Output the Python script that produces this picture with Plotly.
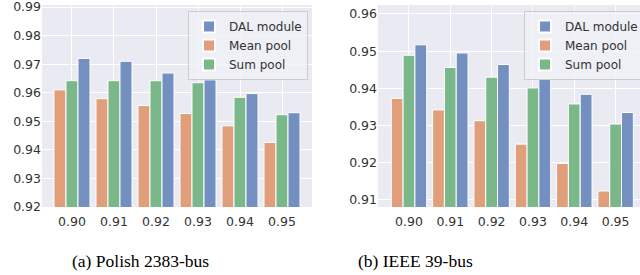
import plotly.graph_objects as go

categories = ["0.90", "0.91", "0.92", "0.93", "0.94", "0.95"]

# (a) Polish 2383-bus
polish_dal = [0.9720, 0.9710, 0.9669, 0.9645, 0.9597, 0.9530]
polish_mean = [0.9610, 0.9579, 0.9555, 0.9527, 0.9484, 0.9426]
polish_sum = [0.9642, 0.9642, 0.9642, 0.9635, 0.9584, 0.9523]

# (b) IEEE 39-bus
ieee_dal = [0.9517, 0.9495, 0.9464, 0.9426, 0.9384, 0.9335]
ieee_mean = [0.9373, 0.9342, 0.9313, 0.9250, 0.9198, 0.9124]
ieee_sum = [0.9489, 0.9456, 0.9430, 0.9401, 0.9358, 0.9304]

captions = ["(a) Polish 2383-bus", "(b) IEEE 39-bus"]

C_DAL = "#7390C0"
C_MEAN = "#E09E7A"
C_SUM = "#7AB88A"
BG = "#EAEAF2"

fig = go.Figure()

def add_group(xa, ya, mean, summ, dal, legend):
    common = dict(x=categories, xaxis=xa, yaxis=ya, legend=legend,
                  marker_line=dict(color="white", width=1))
    fig.add_trace(go.Bar(y=mean, name="Mean pool", marker_color=C_MEAN,
                         legendrank=2, offsetgroup="m", **common))
    fig.add_trace(go.Bar(y=summ, name="Sum pool", marker_color=C_SUM,
                         legendrank=3, offsetgroup="s", **common))
    fig.add_trace(go.Bar(y=dal, name="DAL module", marker_color=C_DAL,
                         legendrank=1, offsetgroup="d", **common))

add_group("x", "y", polish_mean, polish_sum, polish_dal, "legend")
add_group("x2", "y2", ieee_mean, ieee_sum, ieee_dal, "legend2")

W, H = 640, 275
ydom = [(H - 207) / H, (H - 5) / H]
tickfont = dict(family="DejaVu Sans", size=12.5, color="#333333")
axis_common = dict(showgrid=True, gridcolor="white", gridwidth=1.2,
                   zeroline=False, showline=False, ticks="",
                   tickfont=tickfont, automargin=False,
                   ticklabeloverflow="allow")

legend_common = dict(bgcolor="rgba(240,240,246,0.8)", bordercolor="#CCCCCC",
                     borderwidth=1, font=dict(family="DejaVu Sans", size=12, color="#333333"),
                     xanchor="left", yanchor="top", traceorder="normal",
                     itemsizing="constant", tracegroupgap=0)

fig.update_layout(
    width=W, height=H,
    margin=dict(l=0, r=0, t=0, b=0, autoexpand=False),
    paper_bgcolor="white",
    plot_bgcolor=BG,
    barmode="group",
    bargap=0.143,
    bargroupgap=0,
    xaxis=dict(domain=[42 / W, 312 / W], range=[-0.714, 5.714], anchor="y",
               type="category", ticklabelstandoff=5, **axis_common),
    yaxis=dict(domain=ydom, range=[0.92, 0.9907], dtick=0.01, tick0=0.92,
               tickformat=".2f", anchor="x", **axis_common),
    xaxis2=dict(domain=[378 / W, 1.0], range=[-0.75, 5.59], anchor="y2",
                type="category", ticklabelstandoff=5, **axis_common),
    yaxis2=dict(domain=ydom, range=[0.9081, 0.9624], dtick=0.01, tick0=0.91,
                tickformat=".2f", anchor="x2", **axis_common),
    legend=dict(x=188 / W, y=1 - 11 / H, **legend_common),
    legend2=dict(x=524 / W, y=1 - 11 / H, **legend_common),
    annotations=[
        dict(text=captions[0], x=140 / W, y=1 - 261 / H, xref="paper", yref="paper",
             xanchor="center", yanchor="middle", showarrow=False,
             font=dict(family="Liberation Serif", size=17.5, color="black")),
        dict(text=captions[1], x=415 / W, y=1 - 261 / H, xref="paper", yref="paper",
             xanchor="center", yanchor="middle", showarrow=False,
             font=dict(family="Liberation Serif", size=17.5, color="black")),
    ],
)

fig.write_html("out.html", config={"displayModeBar": False},
               post_script="document.body.style.margin='0';")
